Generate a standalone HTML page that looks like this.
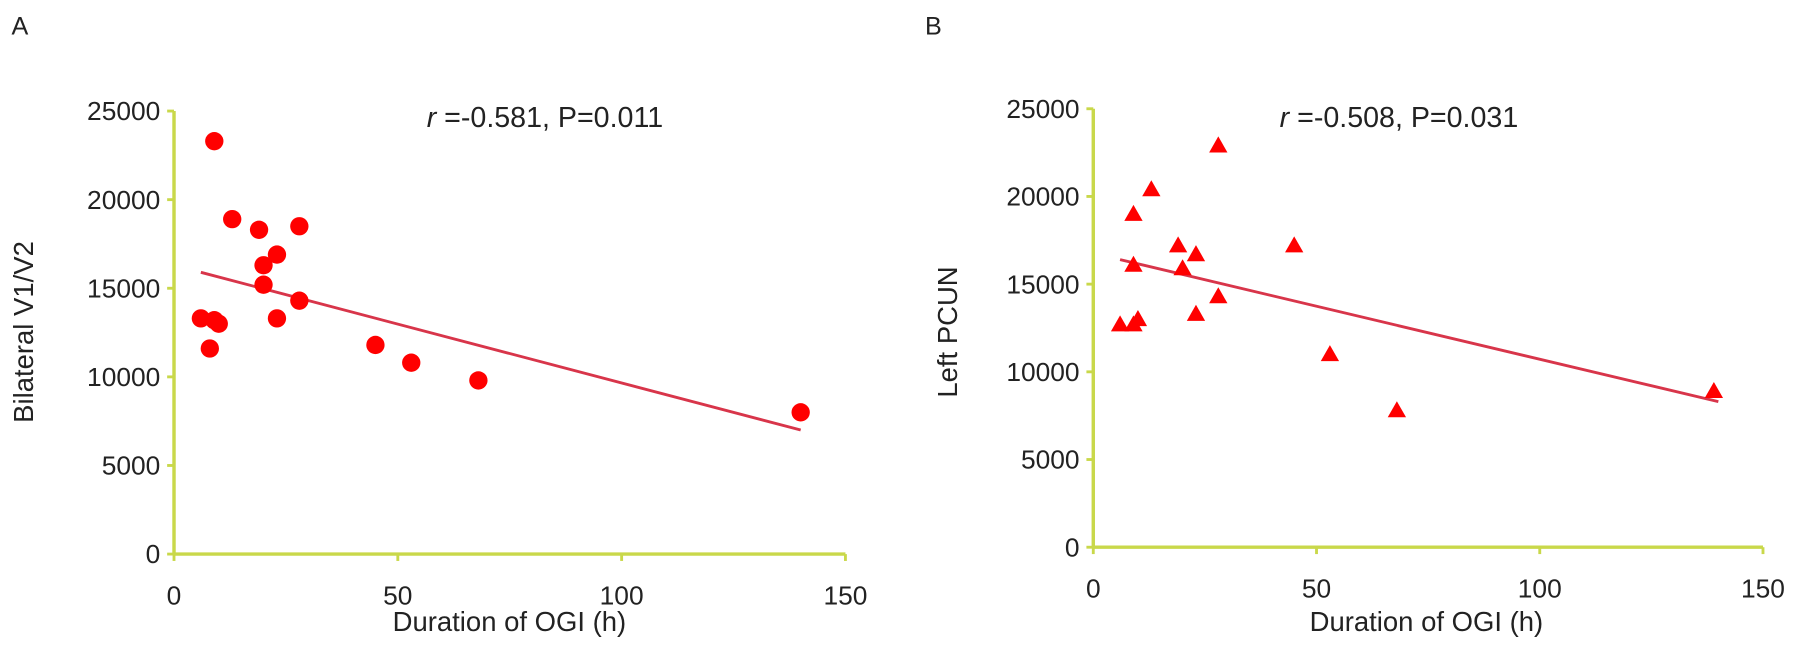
<!DOCTYPE html>
<html><head><meta charset="utf-8"><style>
body{margin:0;background:#fff;}
svg text{font-family:"Liberation Sans",sans-serif;fill:#222;}
</style></head><body>
<svg id="c" width="1795" height="666" xmlns="http://www.w3.org/2000/svg"><g id="root" transform="scale(1.1448)"></g></svg>
<script>
const yTicks=[0,5000,10000,15000,20000,25000];
const xTicks=[0,50,100,150];
const aX=[9,13,19,28,23,20,20,28,23,6,9,10,8,45,53,68,140];
const aY=[23300,18900,18300,18500,16900,16300,15200,14300,13300,13300,13200,13000,11600,11800,10800,9800,8000];
const aFit=[[6,15900],[140,7000]];
const bX=[28,13,9,19,23,45,20,9,28,23,6,9,10,53,68,139];
const bY=[22900,20400,19000,17200,16700,17200,15900,16100,14300,13300,12700,12700,13000,11000,7800,8900];
const bFit=[[6,16400],[140,8300]];
const NS="http://www.w3.org/2000/svg";
const svg=document.getElementById('root');
function el(t,a,p){const e=document.createElementNS(NS,t);for(const k in a)e.setAttribute(k,a[k]);(p||svg).appendChild(e);return e;}
function panel(cfg){
  const g=el('g',{});
  
  
  const sx=v=>cfg.x0+v*cfg.kx, sy=v=>cfg.y0-v*cfg.ky;
  const ax='#c9d84a';
  const yl=el('line',{x1:cfg.x0,y1:cfg.y0,x2:cfg.x0,y2:sy(25000),stroke:ax,'stroke-width':3},g);
  
  const xl=el('line',{x1:cfg.x0,y1:cfg.y0,x2:sx(150),y2:cfg.y0,stroke:ax,'stroke-width':3},g);
  
  yTicks.forEach(v=>{
    el('line',{x1:cfg.x0-6,y1:sy(v),x2:cfg.x0,y2:sy(v),stroke:ax,'stroke-width':2.5},g);
    const t=el('text',{x:cfg.x0-12,y:sy(v)+8,'font-size':23,'text-anchor':'end'},g);
    t.textContent=v;
    
  });
  xTicks.forEach(v=>{
    el('line',{x1:sx(v),y1:cfg.y0,x2:sx(v),y2:cfg.y0+6,stroke:ax,'stroke-width':2.5},g);
    const t=el('text',{x:sx(v),y:cfg.y0+44,'font-size':23,'text-anchor':'middle'},g);
    t.textContent=v;
    
  });
  const fl=el('line',{x1:sx(cfg.fit[0][0]),y1:sy(cfg.fit[0][1]),x2:sx(cfg.fit[1][0]),y2:sy(cfg.fit[1][1]),stroke:'#d8354a','stroke-width':2.5},g);
  
  cfg.xs.forEach((v,i)=>{
    const cx=sx(v),cy=sy(cfg.ys[i]);
    let m;
    if(cfg.tri) m=el('polygon',{points:`${cx},${cy-8} ${cx-8},${cy+6} ${cx+8},${cy+6}`,fill:'#f00'},g);
    else m=el('circle',{cx:cx,cy:cy,r:8,fill:'#f00'},g);
    
  });
  const st=el('text',{x:cfg.statX,y:111,'font-size':25,'text-anchor':'middle'},g);
  st.innerHTML='<tspan font-style="italic">r</tspan> =-'+cfg.r+', P='+cfg.p;
  
  const yt=el('text',{x:0,y:0,'font-size':24,'text-anchor':'middle',transform:`translate(${cfg.ytX},${cfg.ytY}) rotate(-90)`},g);
  yt.textContent=cfg.ytitle;
  
  const xt=el('text',{x:cfg.xtX,y:551,'font-size':24,'text-anchor':'middle'},g);
  xt.textContent='Duration of OGI (h)';
  
  const pl=el('text',{x:cfg.plX,y:30,'font-size':22},g);
  pl.textContent=cfg.letter;
  
}
panel({name:'panel-a',x0:152,y0:484,kx:3.91,ky:0.01548,xs:aX,ys:aY,fit:aFit,tri:false,r:'0.581',p:'0.011',statX:476,ytitle:'Bilateral V1/V2',ytX:29,ytY:290,xtX:445,plX:10,letter:'A'});
panel({name:'panel-b',x0:955,y0:478,kx:3.9,ky:0.01532,xs:bX,ys:bY,fit:bFit,tri:true,r:'0.508',p:'0.031',statX:1222,ytitle:'Left PCUN',ytX:836,ytY:290,xtX:1246,plX:808,letter:'B'});
</script>
</body></html>
